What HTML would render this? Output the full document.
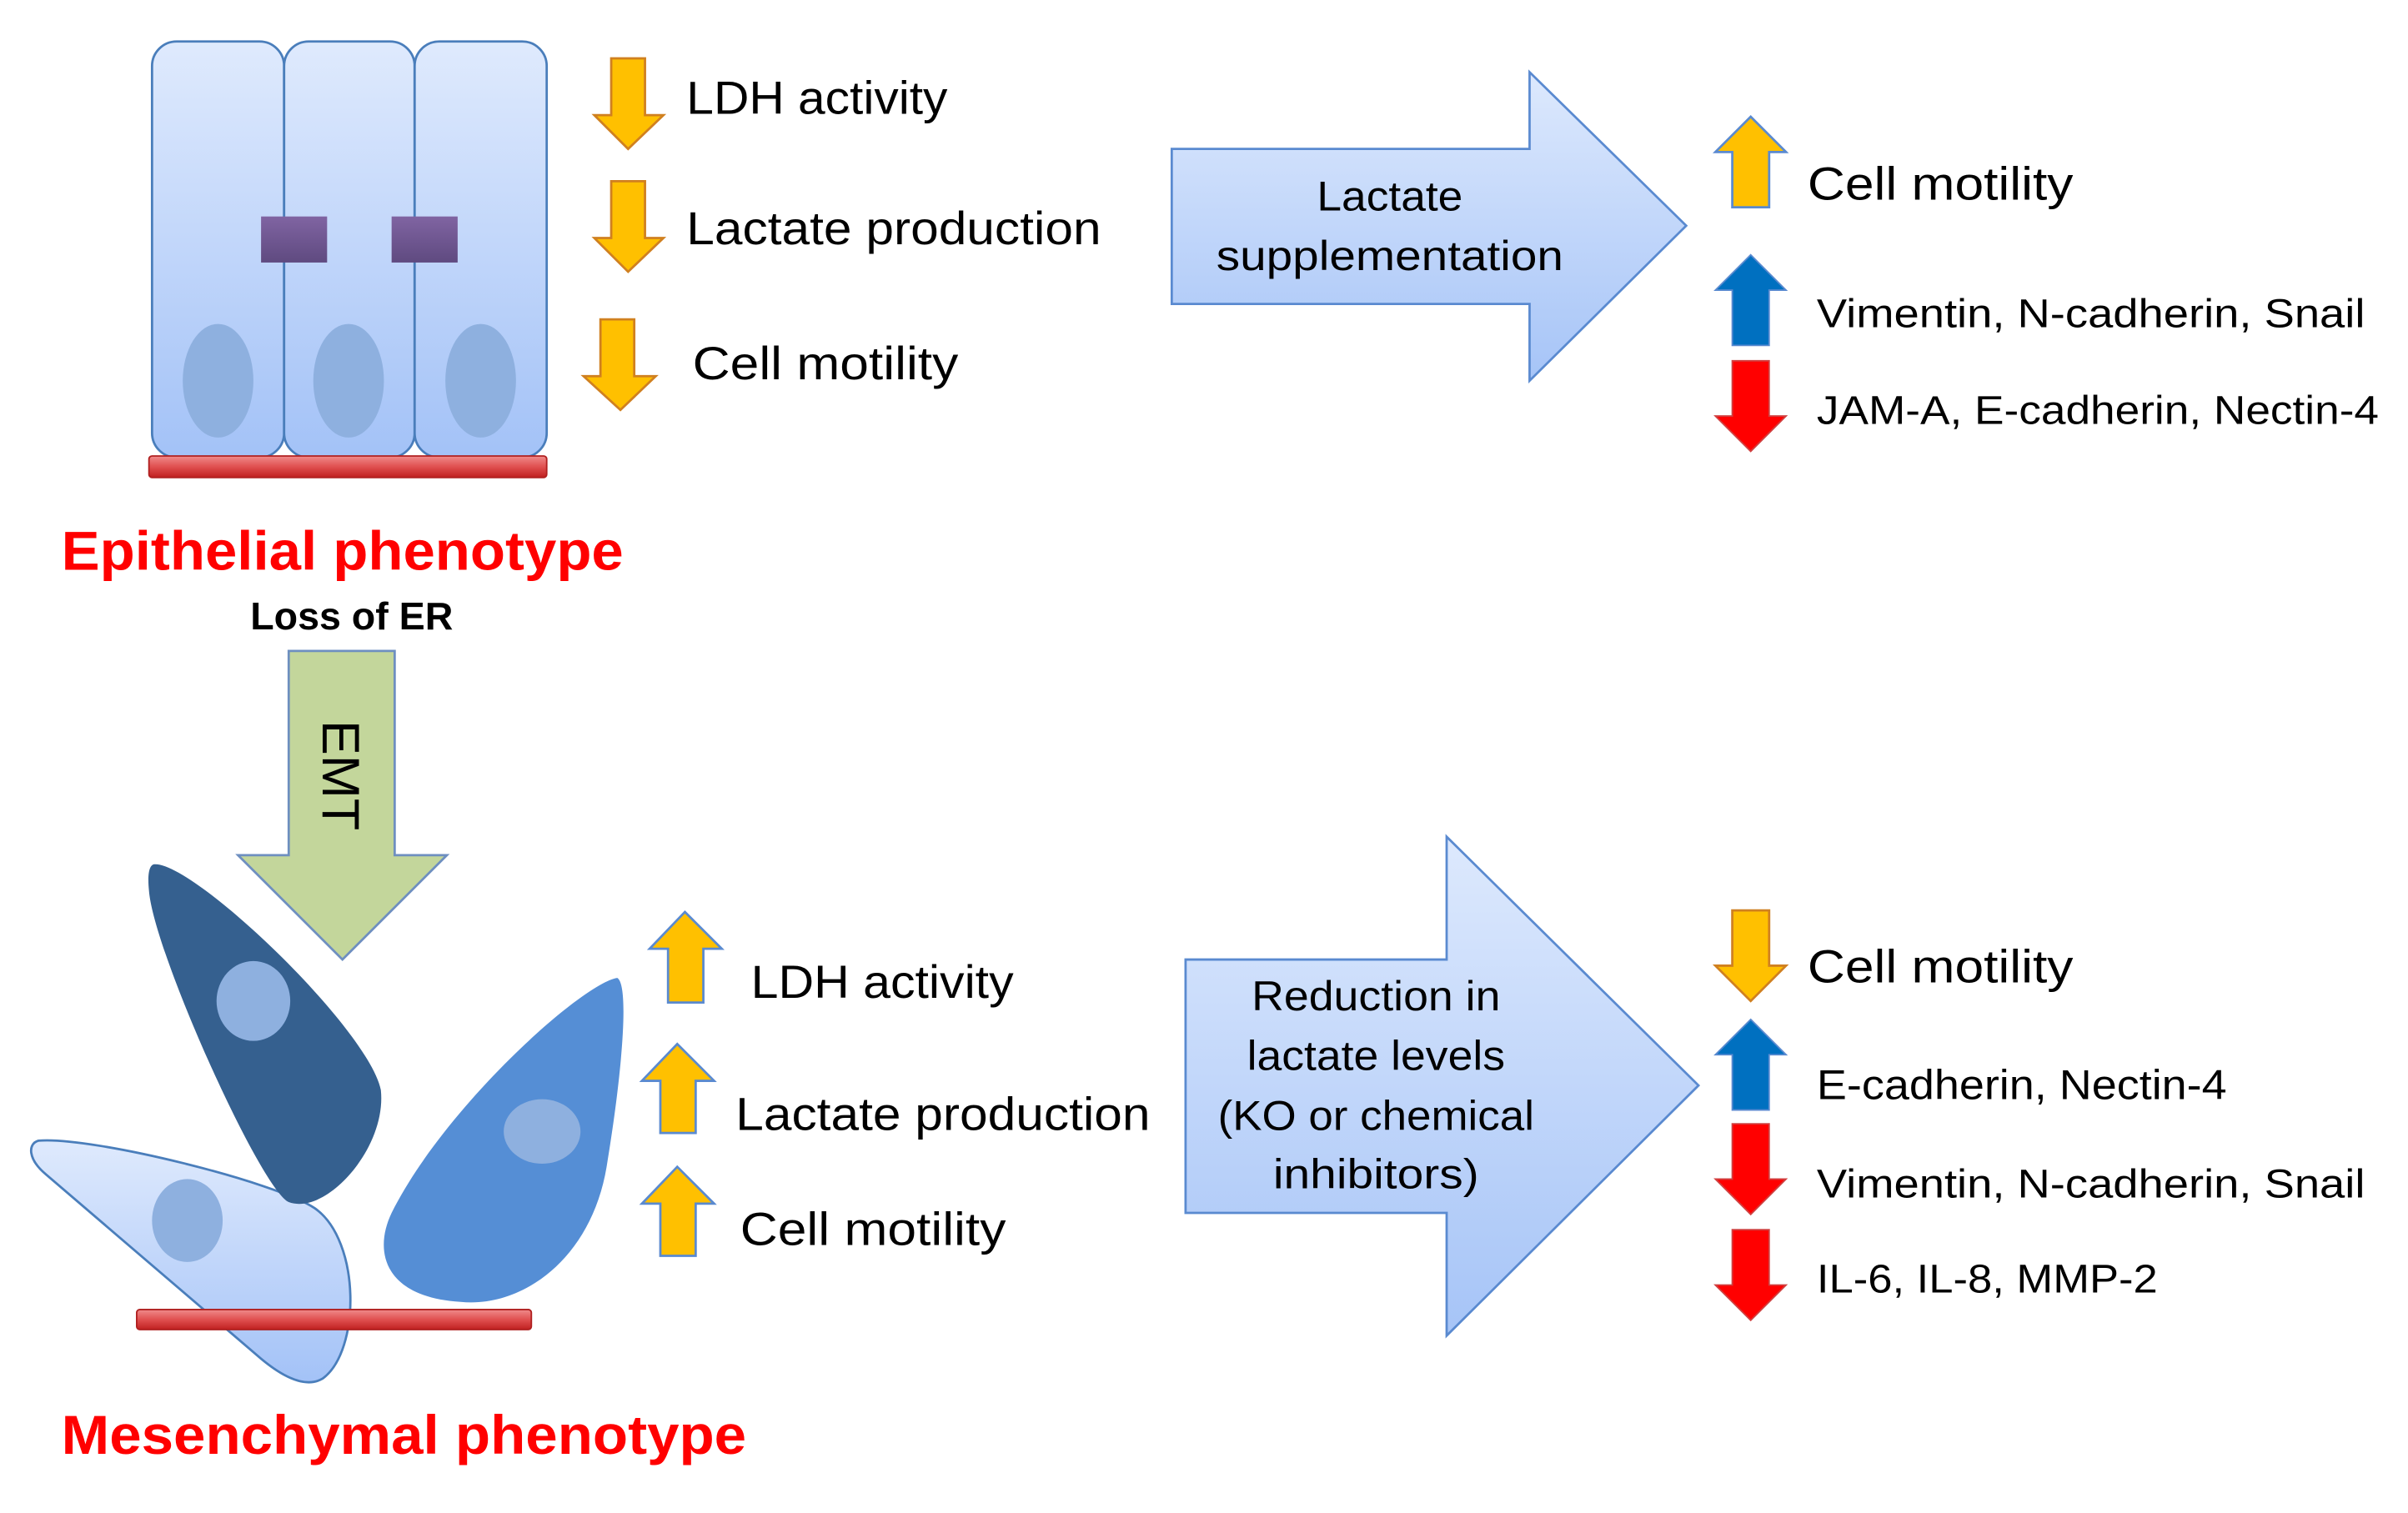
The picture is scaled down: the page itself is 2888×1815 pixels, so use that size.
<!DOCTYPE html>
<html><head><meta charset="utf-8"><style>
html,body{margin:0;padding:0;background:#fff;}
svg{display:block;}
text{font-family:"Liberation Sans",sans-serif;}
</style></head><body>
<svg width="2888" height="1815" viewBox="0 0 1568 985.5" preserveAspectRatio="none" xmlns="http://www.w3.org/2000/svg">
<defs>
<linearGradient id="cell" x1="0" y1="0" x2="0" y2="1"><stop offset="0" stop-color="#dfeafd"/><stop offset="1" stop-color="#a3c2f7"/></linearGradient>
<linearGradient id="big" x1="0" y1="0" x2="0" y2="1"><stop offset="0" stop-color="#dde9fd"/><stop offset="1" stop-color="#a6c4f7"/></linearGradient>
<linearGradient id="bar" x1="0" y1="0" x2="0" y2="1"><stop offset="0" stop-color="#f08c8c"/><stop offset="0.5" stop-color="#e05050"/><stop offset="1" stop-color="#c02020"/></linearGradient>
<linearGradient id="purp" x1="0" y1="0" x2="0" y2="1"><stop offset="0" stop-color="#8064a2"/><stop offset="1" stop-color="#5f4a80"/></linearGradient>
</defs>

<rect x="99" y="27" width="86" height="271" rx="16" fill="url(#cell)" stroke="#4a7ebb" stroke-width="1.5"/>
<rect x="185" y="27" width="85" height="271" rx="16" fill="url(#cell)" stroke="#4a7ebb" stroke-width="1.5"/>
<rect x="270" y="27" width="86" height="271" rx="16" fill="url(#cell)" stroke="#4a7ebb" stroke-width="1.5"/>
<rect x="170" y="141" width="43" height="30" fill="url(#purp)"/>
<rect x="255" y="141" width="43" height="30" fill="url(#purp)"/>
<ellipse cx="142" cy="248" rx="23" ry="37" fill="#8eb0df"/>
<ellipse cx="227" cy="248" rx="23" ry="37" fill="#8eb0df"/>
<ellipse cx="313" cy="248" rx="23" ry="37" fill="#8eb0df"/>
<rect x="97" y="297" width="259" height="14" rx="2" fill="url(#bar)" stroke="#b02020" stroke-width="1"/>

<g fill="#ffc000" stroke="#d08020" stroke-width="1.5">
<polygon points="398,38 420,38 420,75 432,75 409,97 387,75 398,75"/>
<polygon points="398,118 420,118 420,155 432,155 409,177 387,155 398,155"/>
<polygon points="391,208 413,208 413,245 427,245 404,267 380,245 391,245"/>
</g>
<g font-size="30" fill="#000">
<text x="447" y="74" textLength="170" lengthAdjust="spacingAndGlyphs">LDH activity</text>
<text x="447" y="159" textLength="270" lengthAdjust="spacingAndGlyphs">Lactate production</text>
<text x="451" y="247" textLength="173" lengthAdjust="spacingAndGlyphs">Cell motility</text>
</g>

<text x="40" y="371" font-size="36" font-weight="bold" fill="#ff0000" textLength="366" lengthAdjust="spacingAndGlyphs">Epithelial phenotype</text>
<text x="229" y="410" font-size="25" font-weight="bold" fill="#000" text-anchor="middle" textLength="132" lengthAdjust="spacingAndGlyphs">Loss of ER</text>

<polygon points="188,424 257,424 257,557 291,557 223,625 155,557 188,557" fill="#c3d69b" stroke="#6e8fc0" stroke-width="1.5"/>
<text transform="translate(210,505) rotate(90)" font-size="34" fill="#000" text-anchor="middle">EMT</text>

<path d="M25,743 C60,740 180,770 205,787 C235,808 235,880 210,898 C198,905 182,895 170,885 L30,765 C18,755 18,745 25,743 Z" fill="url(#cell)" stroke="#4a7ebb" stroke-width="1.5"/>
<ellipse cx="122" cy="795" rx="23" ry="27" fill="#8eb0df"/>
<path d="M100,563 C125,560 240,670 248,710 C252,748 212,792 188,783 C170,775 100,620 97,580 C96,570 97,564 100,563 Z" fill="#35608f"/>
<ellipse cx="165" cy="652" rx="24" ry="26" fill="#8eb0df"/>
<path d="M402,637 C410,642 405,700 395,760 C385,820 340,852 300,848 C250,845 243,815 255,790 C290,720 380,640 402,637 Z" fill="#558ed5"/>
<ellipse cx="353" cy="737" rx="25" ry="21" fill="#8eb0df"/>
<rect x="89" y="853" width="257" height="13" rx="2" fill="url(#bar)" stroke="#b02020" stroke-width="1"/>

<g fill="#ffc000" stroke="#5a8ad0" stroke-width="1.5">
<polygon points="446,594 470,618 458,618 458,653 435,653 435,618 423,618"/>
<polygon points="441,680 465,704 453,704 453,738 430,738 430,704 418,704"/>
<polygon points="441,760 465,784 453,784 453,818 430,818 430,784 418,784"/>
</g>
<g font-size="30" fill="#000">
<text x="489" y="650" textLength="171" lengthAdjust="spacingAndGlyphs">LDH activity</text>
<text x="479" y="736" textLength="270" lengthAdjust="spacingAndGlyphs">Lactate production</text>
<text x="482" y="811" textLength="173" lengthAdjust="spacingAndGlyphs">Cell motility</text>
</g>

<text x="40" y="947" font-size="36" font-weight="bold" fill="#ff0000" textLength="446" lengthAdjust="spacingAndGlyphs">Mesenchymal phenotype</text>

<polygon points="763,97 996,97 996,47 1098,147 996,248 996,198 763,198" fill="url(#big)" stroke="#5a8ad0" stroke-width="1.5"/>
<g font-size="27" fill="#000" text-anchor="middle">
<text x="905" y="137" textLength="95" lengthAdjust="spacingAndGlyphs">Lactate</text>
<text x="905" y="176" textLength="226" lengthAdjust="spacingAndGlyphs">supplementation</text>
</g>

<polygon points="772,625 942,625 942,545 1106,707 942,870 942,790 772,790" fill="url(#big)" stroke="#5a8ad0" stroke-width="1.5"/>
<g font-size="27" fill="#000" text-anchor="middle">
<text x="896" y="658" textLength="162" lengthAdjust="spacingAndGlyphs">Reduction in</text>
<text x="896" y="697" textLength="168" lengthAdjust="spacingAndGlyphs">lactate levels</text>
<text x="896" y="736" textLength="206" lengthAdjust="spacingAndGlyphs">(KO or chemical</text>
<text x="896" y="774" textLength="134" lengthAdjust="spacingAndGlyphs">inhibitors)</text>
</g>

<polygon points="1140,76 1163,99 1152,99 1152,135 1128,135 1128,99 1117,99" fill="#ffc000" stroke="#5a8ad0" stroke-width="1.5"/>
<polygon points="1140,166 1163,189 1152,189 1152,225 1128,225 1128,189 1117,189" fill="#0070c0" stroke="#5a8ad0" stroke-width="1"/>
<polygon points="1128,235 1152,235 1152,271 1163,271 1140,294 1117,271 1128,271" fill="#ff0000" stroke="#d04040" stroke-width="1"/>
<g fill="#000">
<text x="1177" y="130" font-size="30" textLength="173" lengthAdjust="spacingAndGlyphs">Cell motility</text>
<text x="1183" y="213" font-size="26" textLength="357" lengthAdjust="spacingAndGlyphs">Vimentin, N-cadherin, Snail</text>
<text x="1183" y="276" font-size="26" textLength="366" lengthAdjust="spacingAndGlyphs">JAM-A, E-cadherin, Nectin-4</text>
</g>

<polygon points="1128,593 1152,593 1152,629 1163,629 1140,652 1117,629 1128,629" fill="#ffc000" stroke="#d08020" stroke-width="1.5"/>
<polygon points="1140,664 1163,687 1152,687 1152,723 1128,723 1128,687 1117,687" fill="#0070c0" stroke="#5a8ad0" stroke-width="1"/>
<polygon points="1128,732 1152,732 1152,768 1163,768 1140,791 1117,768 1128,768" fill="#ff0000" stroke="#d04040" stroke-width="1"/>
<polygon points="1128,801 1152,801 1152,837 1163,837 1140,860 1117,837 1128,837" fill="#ff0000" stroke="#d04040" stroke-width="1"/>
<g fill="#000">
<text x="1177" y="640" font-size="30" textLength="173" lengthAdjust="spacingAndGlyphs">Cell motility</text>
<text x="1183" y="716" font-size="27" textLength="267" lengthAdjust="spacingAndGlyphs">E-cadherin, Nectin-4</text>
<text x="1183" y="780" font-size="26" textLength="357" lengthAdjust="spacingAndGlyphs">Vimentin, N-cadherin, Snail</text>
<text x="1183" y="842" font-size="26" textLength="222" lengthAdjust="spacingAndGlyphs">IL-6, IL-8, MMP-2</text>
</g>
</svg>
</body></html>
